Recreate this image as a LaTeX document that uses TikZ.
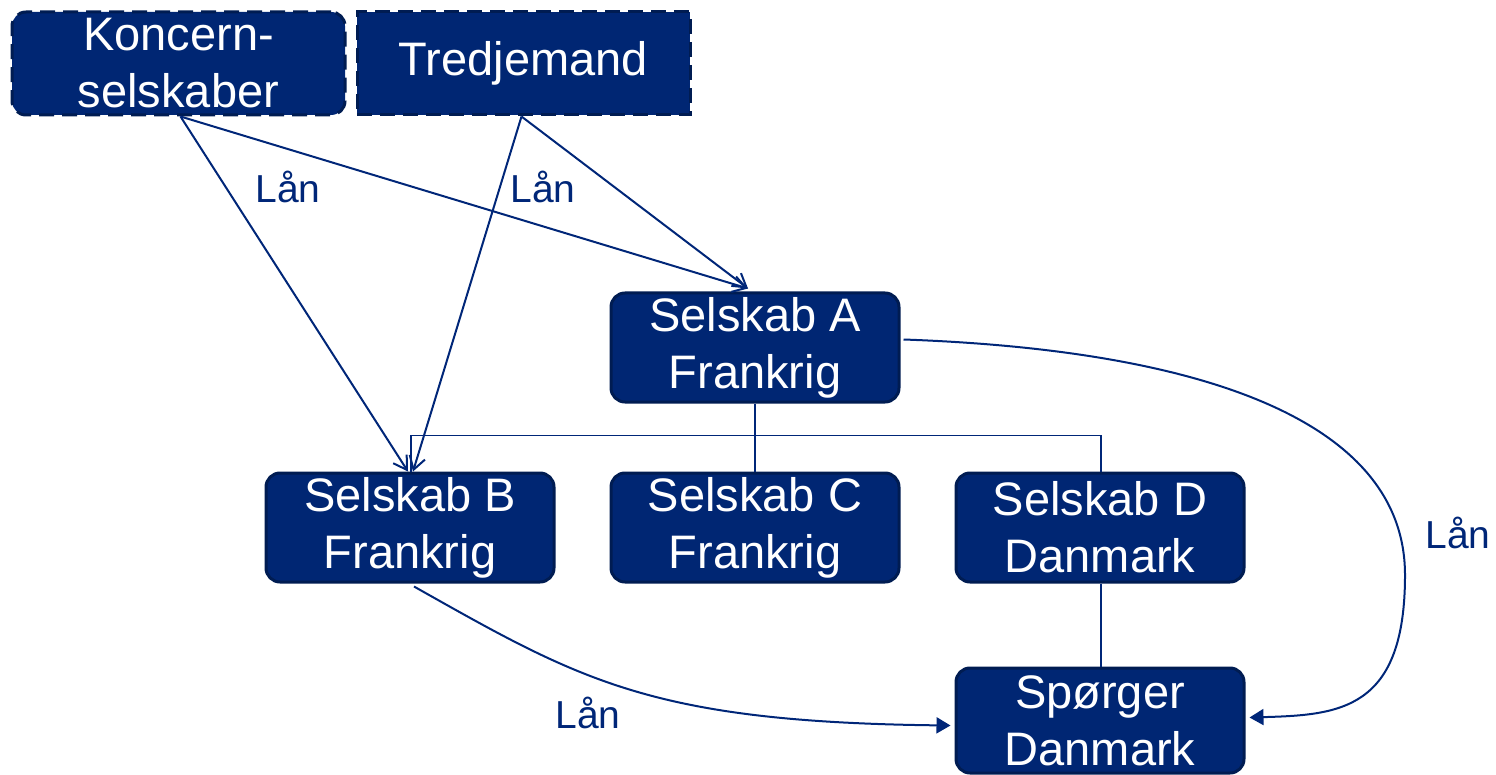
\documentclass[tikz,border=0pt]{standalone}
\usepackage{fontspec}
\setmainfont{Liberation Sans}
\usetikzlibrary{arrows.meta}
\definecolor{boxfill}{RGB}{0,38,115}
\definecolor{boxedge}{RGB}{0,28,82}
\definecolor{linkcol}{RGB}{0,38,120}
\tikzset{
  unit/.style={draw=boxedge, fill=boxfill, line width=3pt, rounded corners=14pt,
    text=white, align=center, inner sep=0pt, minimum width=288pt, minimum height=109pt,
    font=\fontsize{47}{57}\selectfont},
  outside/.style={unit, dash pattern=on 15pt off 8pt, minimum width=333pt, minimum height=103pt},
  owner/.style={draw=linkcol, line width=1.5pt},
  loan/.style={draw=linkcol, line width=2pt, -{Straight Barb[length=13pt,width=16pt,line width=2pt]}},
  loanfilled/.style={draw=linkcol, line width=2pt, -{Triangle[length=14pt,width=16pt]}},
  lbl/.style={text=linkcol, font=\fontsize{39}{44}\selectfont, inner sep=0pt}
}
\begin{document}
\begin{tikzpicture}[x=1pt,y=-1pt]
\useasboundingbox (0,0) rectangle (1496,775);

\node[outside] (K) at (178.5,63.5) {Koncern-\\selskaber};
\node[outside, rounded corners=0pt] (T) at (523.5,63.5) {Tredjemand};

\node[unit] (A) at (755,347.5) {Selskab A\\Frankrig};
\node[unit] (B) at (410,527.5) {Selskab B\\Frankrig};
\node[unit] (C) at (755,527.5) {Selskab C\\Frankrig};
\node[unit] (D) at (1100,527.5) {Selskab D\\Danmark};
\node[unit, minimum height=105pt] (S) at (1100,720.5) {Spørger\\Danmark};

% ownership tree
\draw[owner] (A.south) -- (C.north);
\draw[owner] ([xshift=1pt]B.north) -- ++(0,-36) -| ([xshift=1pt]D.north);
\draw[owner] ([xshift=1pt]D.south) -- ([xshift=1pt]S.north);

% loans from the outside lenders
\draw[loan] ([xshift=2pt]K.south) -- ([xshift=-2pt]B.north);
\draw[loan] ([xshift=2pt]K.south) -- ([xshift=-7pt,yshift=3pt]A.north);
\draw[loan] ([xshift=-2pt]T.south) -- ([xshift=3pt]B.north);
\draw[loan] ([xshift=-2pt]T.south) -- ([xshift=-7pt,yshift=3pt]A.north);

% loans to the enquirer
\draw[loanfilled] ([xshift=3pt,yshift=8pt]A.east)
  .. controls (1200,350) and (1405,420) .. (1405,575)
  .. controls (1405,710) and (1340,715) .. ([xshift=4pt,yshift=3pt]S.east);
\draw[loanfilled] ([xshift=4pt,yshift=-3pt]B.south)
  .. controls (580,680) and (650,722) .. ([xshift=-4pt,yshift=-5pt]S.west);

\node[lbl] (l1) at (288,187) {Lån};
\node[lbl] (l2) at (543,187) {Lån};
\node[lbl] (l3) at (1458,533) {Lån};
\node[lbl] (l4) at (588,713) {Lån};
\end{tikzpicture}
\end{document}
